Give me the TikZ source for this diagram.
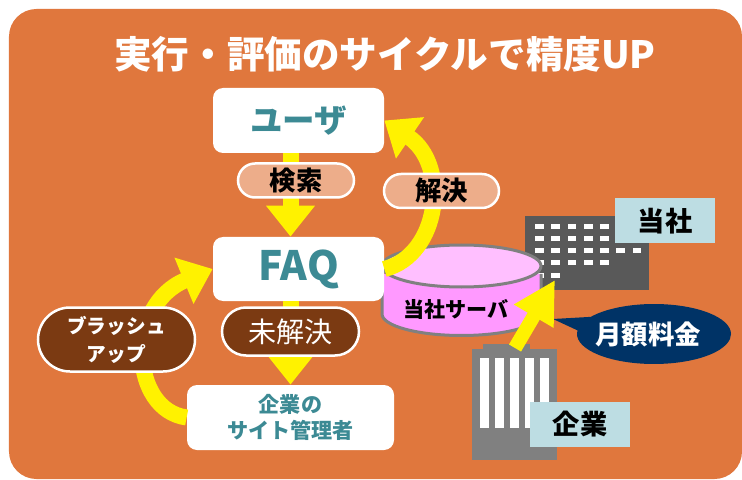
\documentclass[tikz,border=0pt]{standalone}
\usepackage{fontspec}
\setmainfont{Noto Sans CJK JP}
\usetikzlibrary{arrows.meta,shapes.geometric,shapes.callouts,shapes.misc}
\definecolor{cardorange}{HTML}{E0773D}
\definecolor{tealtext}{HTML}{3C8A94}
\definecolor{pillpeach}{HTML}{EDAD8A}
\definecolor{pillbrown}{HTML}{7B3A12}
\definecolor{labelblue}{HTML}{BDDDE3}
\definecolor{callnavy}{HTML}{003366}
\definecolor{serverbody}{HTML}{FF99FF}
\definecolor{servertop}{HTML}{FFBFFF}
\tikzset{
  whitebox/.style = {fill = white, rounded corners = 0.2cm, inner sep = 0, align = center, text = tealtext, font = \bfseries},
  peachpill/.style = {rounded rectangle, draw = white, line width = 0.05cm, fill = pillpeach, inner sep = 0, font = \bfseries\fontsize{15}{15}\selectfont},
  brownpill/.style = {rounded rectangle, draw = white, line width = 0.05cm, fill = pillbrown, text = white, inner sep = 0, align = center},
  namelabel/.style = {fill = labelblue, minimum width = 2.0cm, minimum height = 0.9cm, inner sep = 0, font = \bfseries\fontsize{15.5}{15.5}\selectfont},
  yarrow/.style = {draw = yellow, line width = 0.32cm, -{Triangle[length = 0.62cm, width = 0.94cm, fill = yellow]}},
  ybend/.style = {draw = yellow, line width = 0.32cm, -{Triangle[length = 0.62cm, width = 0.96cm, fill = yellow]}},
}
\begin{document}
\begin{tikzpicture}[scale = 1]
\useasboundingbox (0.0, 0.0) rectangle (14.84, 9.58);
\fill[white] (0.0, 0.0) rectangle (14.84, 9.58);
\fill[cardorange, rounded corners = 0.55cm] (0.18, 0.0) rectangle (14.84, 9.4);
\node[text = white, font = \bfseries\fontsize{21.4}{21.4}\selectfont] (title) at (7.7, 8.5){実行・評価のサイクルで精度UP};
% buildings
\fill[black!65] (10.5, 3.78) rectangle (12.98, 5.26);
\foreach \row/\cols in {9.58-4.48/5, 9.58-4.72/5, 9.58-4.96/7, 9.58-5.2/5, 9.58-5.46/2}{
  \foreach \col in {1,...,\cols}{
    \fill[white] ({10.70 + (\col - 1) * 0.325}, {\row}) rectangle ++(0.175, -0.095);
  }
}
\fill[black!50] (9.44, 0.38) rectangle (11.14, 2.6);
\fill[black!50] (9.66, 2.6) rectangle (10.6, 2.7);
\foreach \col in {0,...,4}{
  \fill[white] ({9.6 + \col * 0.3}, 1.02) rectangle ++(0.18, 1.4);
}
% server
\draw[fill = serverbody, draw = black!50, line width = 0.06cm] (7.64, 4.1) -- (7.64, 3.3) arc [start angle = 180, end angle = 360, x radius = 1.59, y radius = 0.43] -- (10.82, 4.1);
\draw[fill = servertop, draw = black!50, line width = 0.06cm] (9.23, 4.26) ellipse [x radius = 1.59, y radius = 0.42];
\node[font = \bfseries\fontsize{12}{12}\selectfont] (server) at (9.12, 3.4){当社サーバ};
% boxes
\node[whitebox, minimum width = 3.42cm, minimum height = 1.3cm, font = \bfseries\fontsize{18.5}{18.5}\selectfont] (user) at (5.97, 7.17){ユーザ};
\node[whitebox, minimum width = 3.42cm, minimum height = 1.28cm, font = \bfseries\fontsize{23}{23}\selectfont] (faq) at (5.97, 4.2){FAQ};
\node[whitebox, minimum width = 4.14cm, minimum height = 1.3cm, font = \bfseries\fontsize{12}{14.5}\selectfont] (admin) at (5.81, 1.23){企業の\\サイト管理者};
% arrows
\draw[yarrow] ([xshift = -0.16cm]user.south) -- ([xshift = -0.16cm]faq.north);
\draw[yarrow] ([xshift = -0.16cm]faq.south) -- (admin.north);
\draw[ybend] (admin.west) .. controls (2.6, 1.38) and (2.5, 3.48) .. (faq.west);
\draw[ybend] (faq.east) .. controls (8.8, 4.48) and (9.0, 6.28) .. (user.east);
\node[peachpill, minimum width = 2.32cm, minimum height = 0.68cm] (search) at (5.92, 5.97){検索};
\node[peachpill, minimum width = 2.3cm, minimum height = 0.68cm] (solved) at (8.83, 5.76){解決};
\node[brownpill, minimum width = 2.74cm, minimum height = 0.96cm, font = \fontsize{16}{16}\selectfont] (unsolved) at (5.81, 2.95){未解決};
\node[brownpill, minimum width = 3.14cm, minimum height = 1.28cm, font = \bfseries\fontsize{11.2}{16}\selectfont] (brush) at (2.33, 2.79){ブラッシュ\\アップ};
\node[namelabel] (self) at (13.3, 5.16){当社};
\node[namelabel] (client) at (11.6, 1.1){企業};
\coordinate (roof) at (10.3, 2.62);
\coordinate (dock) at (11.1, 3.98);
\node[ellipse callout, callout absolute pointer = {(11.06, 3.2)}, callout pointer arc = 28, fill = callnavy, text = white, minimum width = 3.08cm, minimum height = 1.2cm, inner sep = 0, inner xsep = -0.14cm, font = \bfseries\fontsize{15}{15}\selectfont] (fee) at (13.08, 2.9){月額料金\kern0.24cm};
\draw[yarrow, line width = 0.28cm, -{Triangle[length = 0.84cm, width = 0.86cm, fill = yellow]}] (roof) -- (dock);
\end{tikzpicture}
\end{document}
